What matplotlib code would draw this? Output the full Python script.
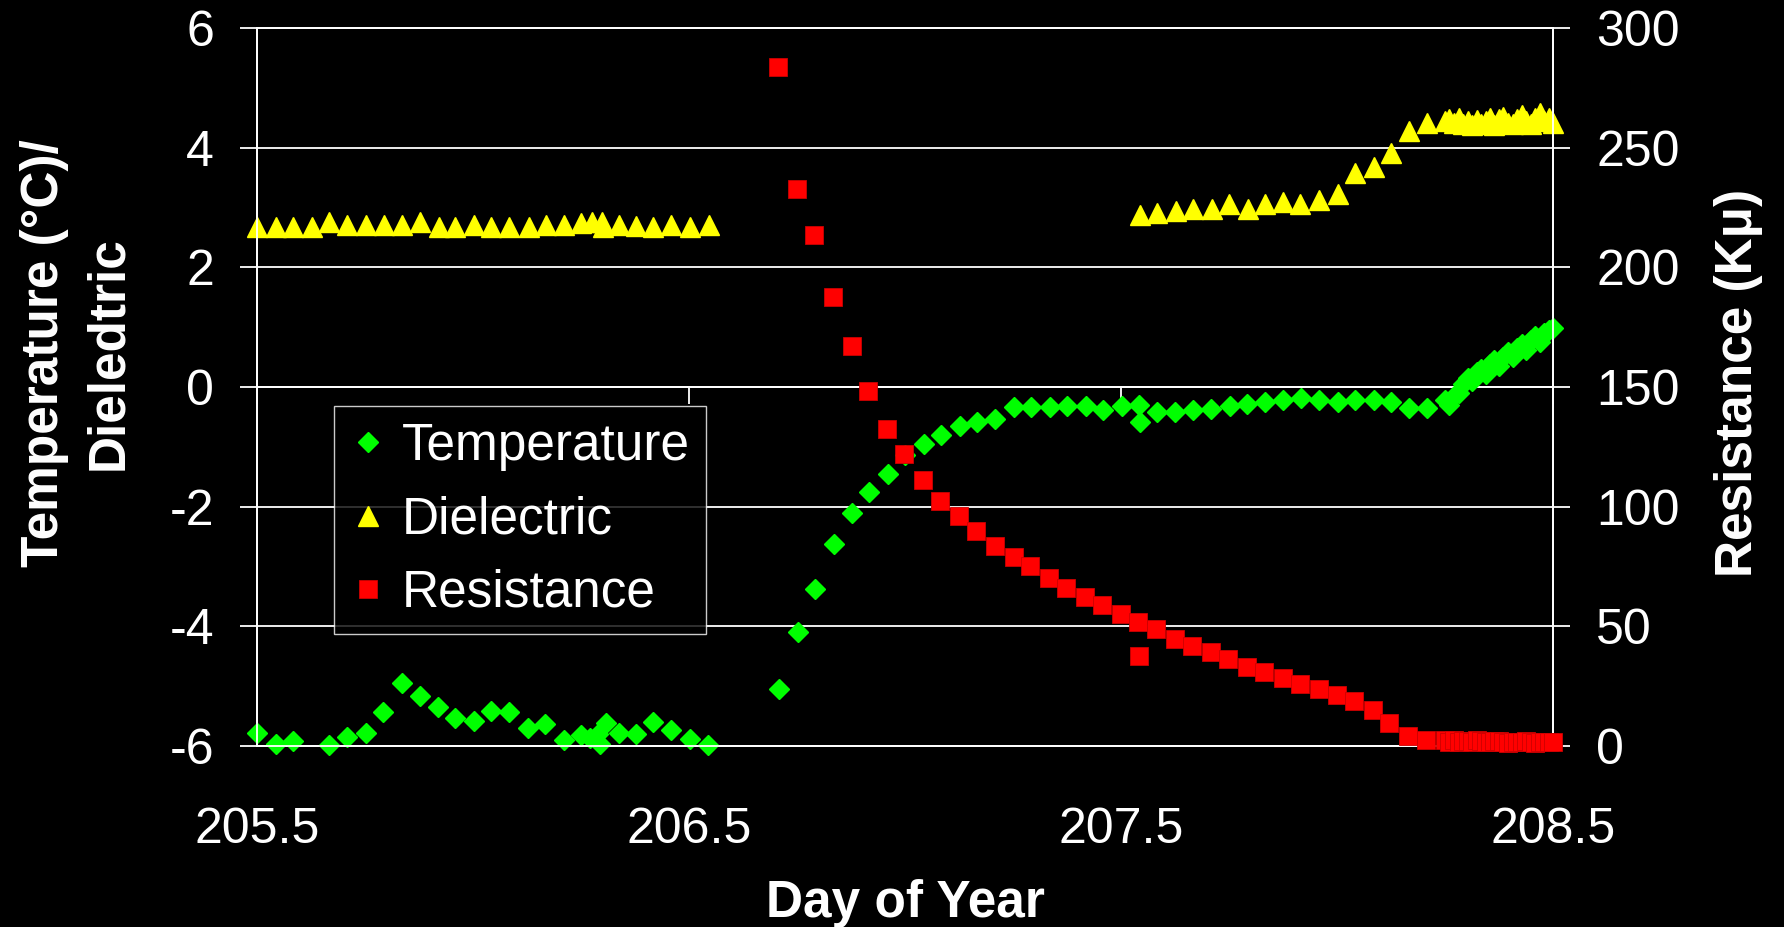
import matplotlib
matplotlib.use("Agg")
import matplotlib.pyplot as plt

plt.rcParams['font.family'] = ['Liberation Sans', 'DejaVu Sans']
plt.rcParams['axes.unicode_minus'] = False

# ---- data ----
temp_day = [205.500, 205.543, 205.584, 205.666, 205.709, 205.752, 205.792, 205.836,
            205.876, 205.918, 205.958, 206.001, 206.041, 206.084, 206.126, 206.167,
            206.211, 206.249, 206.271, 206.288, 206.294, 206.307, 206.338, 206.377,
            206.416, 206.458, 206.502, 206.543,
            206.708, 206.752, 206.791, 206.835, 206.878, 206.917, 206.961, 207.000,
            207.043, 207.083, 207.127, 207.166, 207.209, 207.252, 207.292, 207.335,
            207.374, 207.418, 207.457, 207.502, 207.542, 207.544, 207.582, 207.625,
            207.666, 207.708, 207.751, 207.792, 207.833, 207.875, 207.917, 207.959,
            208.001, 208.041, 208.085, 208.124, 208.167, 208.207,
            208.250, 208.260, 208.271, 208.281, 208.292, 208.302, 208.312, 208.323,
            208.333, 208.344, 208.354, 208.364, 208.375, 208.385, 208.396, 208.406,
            208.417, 208.427, 208.437, 208.448, 208.458, 208.469, 208.479, 208.490,
            208.500]
temp_val = [-5.79, -5.96, -5.92, -5.98, -5.85, -5.79, -5.44, -4.94,
            -5.16, -5.35, -5.54, -5.58, -5.41, -5.44, -5.70, -5.63,
            -5.90, -5.82, -5.87, -5.80, -5.96, -5.62, -5.79, -5.80,
            -5.60, -5.73, -5.89, -5.98,
            -5.04, -4.09, -3.37, -2.62, -2.11, -1.76, -1.45, -1.14,
            -0.95, -0.81, -0.66, -0.59, -0.53, -0.34, -0.34, -0.34,
            -0.31, -0.31, -0.38, -0.31, -0.30, -0.58, -0.41, -0.41,
            -0.38, -0.36, -0.32, -0.28, -0.25, -0.22, -0.19, -0.22,
            -0.25, -0.22, -0.22, -0.25, -0.35, -0.35,
            -0.22, -0.30, -0.15, -0.10, 0.05, 0.15, 0.10, 0.25,
            0.30, 0.22, 0.38, 0.45, 0.35, 0.50, 0.58, 0.50,
            0.65, 0.72, 0.62, 0.78, 0.85, 0.75, 0.90, 0.95,
            0.98]

diel_day = [205.500, 205.543, 205.584, 205.627, 205.667, 205.709, 205.752, 205.794,
            205.836, 205.877, 205.920, 205.958, 206.001, 206.041, 206.084, 206.129,
            206.168, 206.211, 206.249, 206.275, 206.298, 206.300, 206.338, 206.377,
            206.417, 206.459, 206.503, 206.545,
            207.544, 207.584, 207.627, 207.667, 207.710, 207.750, 207.793, 207.832,
            207.874, 207.914, 207.958, 208.001, 208.041, 208.085, 208.124, 208.167,
            208.207,
            208.250, 208.260, 208.271, 208.281, 208.292, 208.302, 208.312, 208.323,
            208.333, 208.344, 208.354, 208.364, 208.375, 208.385, 208.396, 208.406,
            208.417, 208.427, 208.437, 208.448, 208.458, 208.469, 208.479, 208.490,
            208.500]
diel_val = [2.68, 2.68, 2.68, 2.68, 2.75, 2.71, 2.71, 2.71,
            2.71, 2.75, 2.68, 2.68, 2.71, 2.68, 2.68, 2.68,
            2.71, 2.71, 2.74, 2.75, 2.75, 2.68, 2.71, 2.69,
            2.68, 2.71, 2.68, 2.71,
            2.88, 2.90, 2.94, 2.97, 2.97, 3.06, 2.97, 3.06,
            3.10, 3.06, 3.13, 3.22, 3.57, 3.68, 3.91, 4.28,
            4.42,
            4.45, 4.48, 4.42, 4.50, 4.40, 4.45, 4.38, 4.47,
            4.40, 4.45, 4.50, 4.38, 4.48, 4.52, 4.42, 4.40,
            4.48, 4.55, 4.45, 4.40, 4.50, 4.58, 4.45, 4.50,
            4.42]

res_day = [206.706, 206.749, 206.789, 206.833, 206.876, 206.915, 206.958, 206.998,
           207.041, 207.081, 207.124, 207.164, 207.207, 207.251, 207.290, 207.333,
           207.373, 207.416, 207.455, 207.500, 207.540, 207.542, 207.581, 207.625,
           207.664, 207.708, 207.747, 207.791, 207.830, 207.874, 207.913, 207.957,
           207.999, 208.039, 208.083, 208.121, 208.165, 208.206,
           208.250, 208.260, 208.271, 208.281, 208.292, 208.302, 208.312, 208.323,
           208.333, 208.344, 208.354, 208.364, 208.375, 208.385, 208.396, 208.406,
           208.417, 208.427, 208.437, 208.448, 208.458, 208.469, 208.479, 208.490,
           208.500]
res_val = [283.7, 232.7, 213.7, 187.7, 167.1, 148.3, 132.3, 122.1,
           111.2, 102.5, 96.2, 89.8, 83.6, 78.8, 75.0, 70.2,
           66.2, 62.3, 59.0, 55.2, 51.9, 37.7, 48.7, 44.8,
           41.6, 39.3, 36.2, 33.1, 30.8, 28.4, 26.0, 23.7,
           21.3, 18.9, 15.0, 9.5, 4.2, 2.5,
           2.4, 1.8, 2.5, 1.6, 2.2, 1.9, 1.5, 2.3,
           2.0, 1.7, 1.5, 1.9, 2.1, 1.6, 1.4, 1.8,
           1.6, 1.5, 1.9, 1.7, 1.4, 1.6, 1.8, 1.5,
           1.6]

x_ticks = [205.5, 206.5, 207.5, 208.5]
left_ticks = [-6, -4, -2, 0, 2, 4, 6]
right_ticks = [0, 50, 100, 150, 200, 250, 300]

# ---- figure ----
fig = plt.figure(figsize=(17.84, 9.27), dpi=100, facecolor='black')
ax = fig.add_axes([0.1441, 0.1953, 0.7265, 0.7745], facecolor='black')
ax2 = ax.twinx()

ax.plot(temp_day, temp_val, ls='none', marker='D', ms=10.5, color='#00ff00',
        mec='#00ff00', clip_on=False, label='Temperature', zorder=3)
ax.plot(diel_day, diel_val, ls='none', marker='^', ms=14.5, color='#ffff00',
        mec='#ffff00', clip_on=False, label='Dielectric', zorder=3)
ax2.plot(res_day, res_val, ls='none', marker='s', ms=13.5, color='#ff0000',
         mec='#cc0000', mew=0.6, clip_on=False, label='Resistance', zorder=3)

ax.set_xlim(205.5, 208.5)
ax.set_ylim(-6, 6)
ax2.set_ylim(0, 300)
ax.set_xticks(x_ticks)
ax.set_xticklabels([str(t) for t in x_ticks])
ax.set_yticks(left_ticks)
ax2.set_yticks(right_ticks)

ax.grid(axis='y', color='white', lw=1.3)
ax.set_axisbelow(True)
for a in (ax, ax2):
    for s in a.spines.values():
        s.set_color('white')
        s.set_linewidth(1.3)

ax.tick_params(axis='x', length=0, pad=44, labelsize=36, colors='white')
ax.tick_params(axis='y', direction='out', length=12, width=1.3, pad=19,
               labelsize=36, colors='white')
ax2.tick_params(axis='y', direction='out', length=12, width=1.3, pad=19,
                labelsize=36, colors='white')

# x axis crosses at y=0, tick marks hang from it
secax = ax.secondary_xaxis(0.5)
secax.set_alignment('bottom')
secax.set_xticks(x_ticks)
secax.tick_params(axis='x', direction='out', length=12, width=1.3,
                  color='white', labelbottom=False, labeltop=False)
secax.spines['bottom'].set_color('white')
secax.spines['bottom'].set_linewidth(1.3)

ax.set_xlabel('Day of Year', fontsize=37, fontweight='bold', color='white')
ax.xaxis.set_label_coords(0.5, -0.185)
ax.set_ylabel('Temperature (°C)/\nDieledtric', fontsize=37, fontweight='bold',
              color='white', linespacing=1.38)
ax.yaxis.set_label_coords(-0.096, 0.547)
ax2.set_ylabel('Resistance (Kμ)', fontsize=37, fontweight='bold', color='white')
ax2.yaxis.set_label_coords(1.124, 0.505)

h1, l1 = ax.get_legend_handles_labels()
h2, l2 = ax2.get_legend_handles_labels()
leg = ax2.legend(h1 + h2, l1 + l2, loc='upper left', bbox_to_anchor=(0.0594, 0.4735),
                 fontsize=37, frameon=True, fancybox=False, facecolor='black',
                 edgecolor='white', labelcolor='white', handlelength=0.7,
                 handletextpad=0.3, labelspacing=0.47, borderpad=0.32,
                 borderaxespad=0)
leg.get_frame().set_linewidth(1.0)

fig.savefig('out.png', dpi=100, facecolor='black')
